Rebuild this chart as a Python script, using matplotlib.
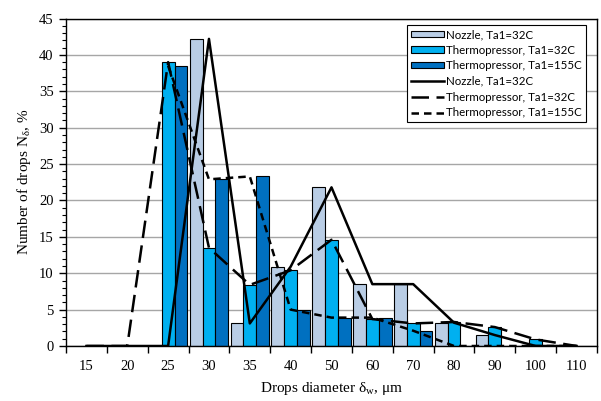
import numpy as np
import matplotlib
matplotlib.use("Agg")
import matplotlib.pyplot as plt
from matplotlib.ticker import MultipleLocator, FixedLocator, NullFormatter

# drop size classes, um
categories = ['15', '20', '25', '30', '35', '40', '50', '60', '70', '80', '90', '100', '110']

# share of drops in each class, %
nozzle_32 = [0, 0, 0, 42.2, 3.1, 10.9, 21.8, 8.5, 8.5, 3.2, 1.5, 0, 0]
thermo_32 = [0, 0, 39.0, 13.5, 8.4, 10.4, 14.6, 3.7, 3.1, 3.3, 2.6, 0.9, 0]
thermo_155 = [0, 0, 38.5, 22.9, 23.3, 5.0, 3.9, 3.9, 2.1, 0, 0, 0, 0]
thermo_155_first = 2   # line for 155C starts at the 25 um class

names = ['Nozzle, Ta1=32C', 'Thermopressor, Ta1=32C', 'Thermopressor, Ta1=155C']
colors = ['#b9cde5', '#00b0f0', '#0070c0']

serif = 'Liberation Serif'
plt.rcParams['mathtext.fontset'] = 'custom'
plt.rcParams['mathtext.rm'] = serif
plt.rcParams['mathtext.it'] = serif + ':italic'

fig = plt.figure(figsize=(6.01, 4.01), dpi=100)
ax = fig.add_axes([66/601, 1 - 346/401, 531/601, 327.5/401])

x = np.arange(len(categories))
w = 0.315
series = [nozzle_32, thermo_32, thermo_155]
bars = []
for k, (vals, c, nm) in enumerate(zip(series, colors, names)):
    b = ax.bar(x + (k - 1) * w, vals, width=w, color=c, edgecolor='black',
               linewidth=0.8, label=nm, zorder=2)
    bars.append(b)

lw = 1.8
l1, = ax.plot(x, nozzle_32, color='black', lw=lw, label=names[0], zorder=3)
l2, = ax.plot(x, thermo_32, color='black', lw=lw, dashes=(7, 3), label=names[1], zorder=3)
t155 = np.array(thermo_155, dtype=float)
t155[:thermo_155_first] = np.nan
l3, = ax.plot(x, t155, color='black', lw=lw, dashes=(3, 2), label=names[2], zorder=3)

ax.set_xlim(-0.5, len(categories) - 0.5)
ax.set_ylim(0, 45)

# category boundaries get the tick marks, labels sit at the centres
ax.xaxis.set_major_locator(FixedLocator(np.arange(len(categories) + 1) - 0.5))
ax.xaxis.set_major_formatter(NullFormatter())
ax.xaxis.set_minor_locator(FixedLocator(x))
ax.set_xticklabels(categories, minor=True)
ax.tick_params(axis='x', which='major', direction='out', length=5, width=1)
ax.tick_params(axis='x', which='minor', length=0, pad=10, labelsize=10.5,
               labelfontfamily=serif)

ax.yaxis.set_major_locator(MultipleLocator(5))
ax.yaxis.set_minor_locator(MultipleLocator(1))
ax.tick_params(axis='y', which='major', direction='out', length=5, width=1,
               labelsize=10.5, labelfontfamily=serif, pad=4)
ax.tick_params(axis='y', which='minor', direction='out', length=3, width=0.8)

ax.grid(axis='y', which='major', color='#a6a6a6', lw=1, zorder=0)
ax.set_axisbelow(True)
for s in ax.spines.values():
    s.set_color('black')
    s.set_linewidth(1)

ax.set_xlabel('Drops diameter δ$_{\\mathrm{w}}$, μm', fontfamily=serif, fontsize=11, labelpad=5)
ax.set_ylabel('Number of drops N$_{\\mathrm{δ}}$, %', fontfamily=serif, fontsize=11, labelpad=4)

handles = bars + [l1, l2, l3]
leg = ax.legend(handles, names + names, loc='upper right',
                bbox_to_anchor=(0.979, 0.980), borderaxespad=0,
                frameon=True, fancybox=False, edgecolor='black', framealpha=1,
                prop={'family': 'Lato', 'size': 8.3}, handlelength=2.9,
                handleheight=0.45, handletextpad=0.15, labelspacing=0.4,
                borderpad=0.35)
leg.get_frame().set_linewidth(0.8)

fig.savefig('out.png', dpi=100)
